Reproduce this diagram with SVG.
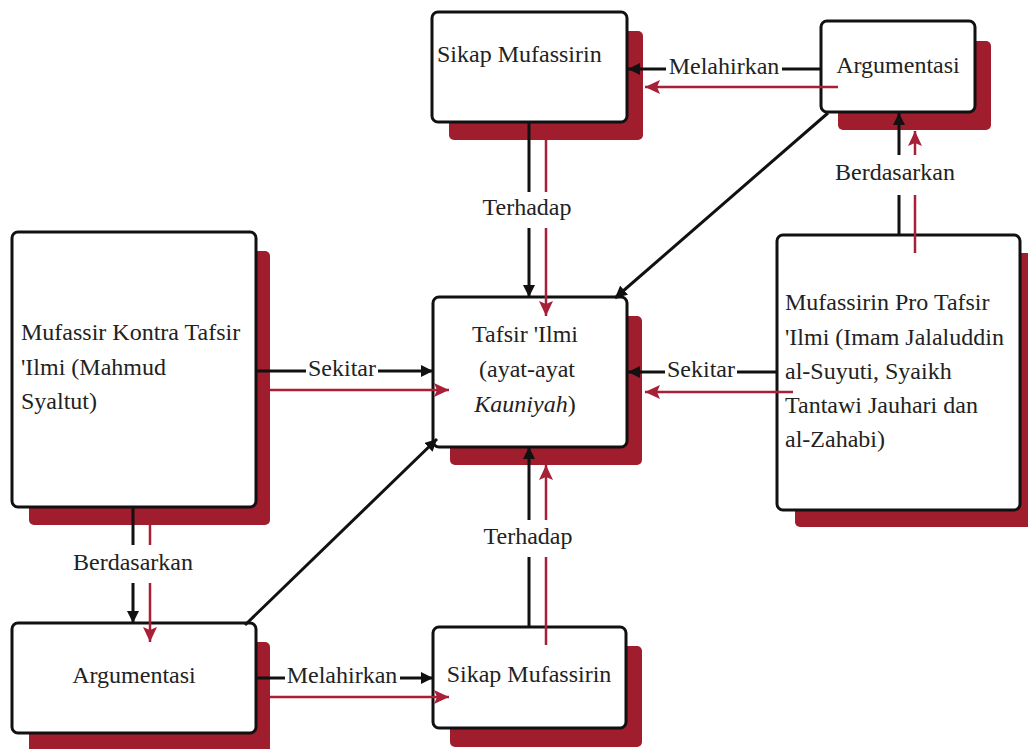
<svg xmlns="http://www.w3.org/2000/svg" width="1028" height="749" viewBox="0 0 1028 749">
<defs>
<style>
.shadow{fill:#9f1d2c;}
.box{fill:#ffffff;stroke:#111111;stroke-width:3;}
.txt{font-family:"Liberation Serif","Times New Roman",serif;font-size:24px;fill:#222222;}
.lbl{font-family:"Liberation Serif","Times New Roman",serif;font-size:24px;fill:#222222;text-anchor:middle;}
.blk{fill:none;stroke:#111111;stroke-width:3;marker-end:url(#ab);}
.blkn{fill:none;stroke:#111111;stroke-width:3;}
.red{fill:none;stroke:#a81f38;stroke-width:2.5;marker-end:url(#ar);}
.redn{fill:none;stroke:#a81f38;stroke-width:2.5;}
</style>
<marker id="ab" markerUnits="userSpaceOnUse" markerWidth="14" markerHeight="12" refX="12" refY="6" orient="auto">
<path d="M0,0 L12,6 L0,12 z" fill="#111111"/>
</marker>
<marker id="ar" markerUnits="userSpaceOnUse" markerWidth="16" markerHeight="14" refX="15" refY="7" orient="auto">
<path d="M0,0 L15,7 L0,14 L3,7 z" fill="#a81f38"/>
</marker>
</defs>
<rect width="1028" height="749" fill="#ffffff"/>

<g id="node-sikap-top">
<rect class="shadow" x="449" y="31" width="194" height="109" rx="5"/>
<rect class="box" x="432" y="12" width="195" height="110" rx="6"/>
<text class="txt" x="437" y="62">Sikap Mufassirin</text>
</g>

<g id="node-argumentasi-top">
<rect class="shadow" x="838" y="41" width="153" height="89" rx="5"/>
<rect class="box" x="821" y="21" width="154" height="91" rx="6"/>
<text class="txt" x="898" y="73" text-anchor="middle">Argumentasi</text>
</g>

<g id="node-kontra">
<rect class="shadow" x="29" y="251" width="241" height="274" rx="5"/>
<rect class="box" x="12" y="232" width="244" height="275" rx="6"/>
<text class="txt" x="21" y="340">Mufassir Kontra Tafsir</text>
<text class="txt" x="21" y="375">'Ilmi (Mahmud</text>
<text class="txt" x="21" y="409">Syaltut)</text>
</g>

<g id="node-tafsir">
<rect class="shadow" x="450" y="316" width="192" height="149" rx="5"/>
<rect class="box" x="433" y="297" width="194" height="150" rx="6"/>
<text class="txt" x="525" y="342" text-anchor="middle" font-size="22">Tafsir 'Ilmi</text>
<text class="txt" x="527" y="377" text-anchor="middle" font-size="23">(ayat-ayat</text>
<text class="txt" x="525" y="412" text-anchor="middle" font-size="23"><tspan font-style="italic">Kauniyah</tspan>)</text>
</g>

<g id="node-pro">
<rect class="shadow" x="795" y="253" width="245" height="274" rx="5"/>
<rect class="box" x="777" y="235" width="243" height="275" rx="6"/>
<text class="txt" x="785" y="310">Mufassirin Pro Tafsir</text>
<text class="txt" x="785" y="345">'Ilmi (Imam Jalaluddin</text>
<text class="txt" x="785" y="379">al-Suyuti, Syaikh</text>
<text class="txt" x="785" y="413">Tantawi Jauhari dan</text>
<text class="txt" x="785" y="447">al-Zahabi)</text>
</g>

<g id="node-argumentasi-bottom">
<rect class="shadow" x="29" y="642" width="241" height="112" rx="5"/>
<rect class="box" x="12" y="623" width="244" height="110" rx="6"/>
<text class="txt" x="134" y="683" text-anchor="middle">Argumentasi</text>
</g>

<g id="node-sikap-bottom">
<rect class="shadow" x="450" y="646" width="192" height="101" rx="5"/>
<rect class="box" x="433" y="627" width="193" height="101" rx="6"/>
<text class="txt" x="529" y="682" text-anchor="middle">Sikap Mufassirin</text>
</g>

<g id="connectors">
<!-- top Argumentasi -> top Sikap -->
<path class="blk" d="M821,69 L782,69 M666,69 L628,69"/>
<path class="red" d="M838,87 L645,87"/>
<text class="lbl" x="724" y="74">Melahirkan</text>

<!-- top Sikap -> Tafsir -->
<path class="blk" d="M529,122 L529,192 M529,228 L529,297"/>
<path class="red" d="M546,140 L546,192 M546,228 L546,316"/>
<text class="lbl" x="527" y="215">Terhadap</text>

<!-- top Argumentasi -> Tafsir diagonal -->
<path class="blk" d="M828,113 L615,298"/>

<!-- Pro -> top Argumentasi -->
<path class="blk" d="M899,235 L899,195 M899,155 L899,113"/>
<path class="red" d="M915,253 L915,195 M915,155 L915,131"/>
<text class="lbl" x="895" y="180">Berdasarkan</text>

<!-- Pro -> Tafsir -->
<path class="blk" d="M777,372 L737,372 M665,372 L628,372"/>
<path class="red" d="M793,392 L645,392"/>
<text class="lbl" x="701" y="377">Sekitar</text>

<!-- Kontra -> Tafsir -->
<path class="blk" d="M256,371 L306,371 M378,371 L433,371"/>
<path class="red" d="M270,390 L449,390"/>
<text class="lbl" x="342" y="376">Sekitar</text>

<!-- Kontra -> bottom Argumentasi -->
<path class="blk" d="M133,507 L133,545 M133,583 L133,623"/>
<path class="red" d="M150,525 L150,545 M150,583 L150,642"/>
<text class="lbl" x="133" y="570">Berdasarkan</text>

<!-- bottom Argumentasi -> Tafsir diagonal -->
<path class="blk" d="M245,625 L437,439"/>

<!-- bottom Argumentasi -> bottom Sikap -->
<path class="blk" d="M256,678 L285,678 M400,678 L433,678"/>
<path class="red" d="M270,697 L449,697"/>
<text class="lbl" x="342" y="683">Melahirkan</text>

<!-- bottom Sikap -> Tafsir -->
<path class="blk" d="M529,627 L529,557 M529,520 L529,447"/>
<path class="red" d="M546,645 L546,557 M546,520 L546,465"/>
<text class="lbl" x="528" y="544">Terhadap</text>
</g>
</svg>
